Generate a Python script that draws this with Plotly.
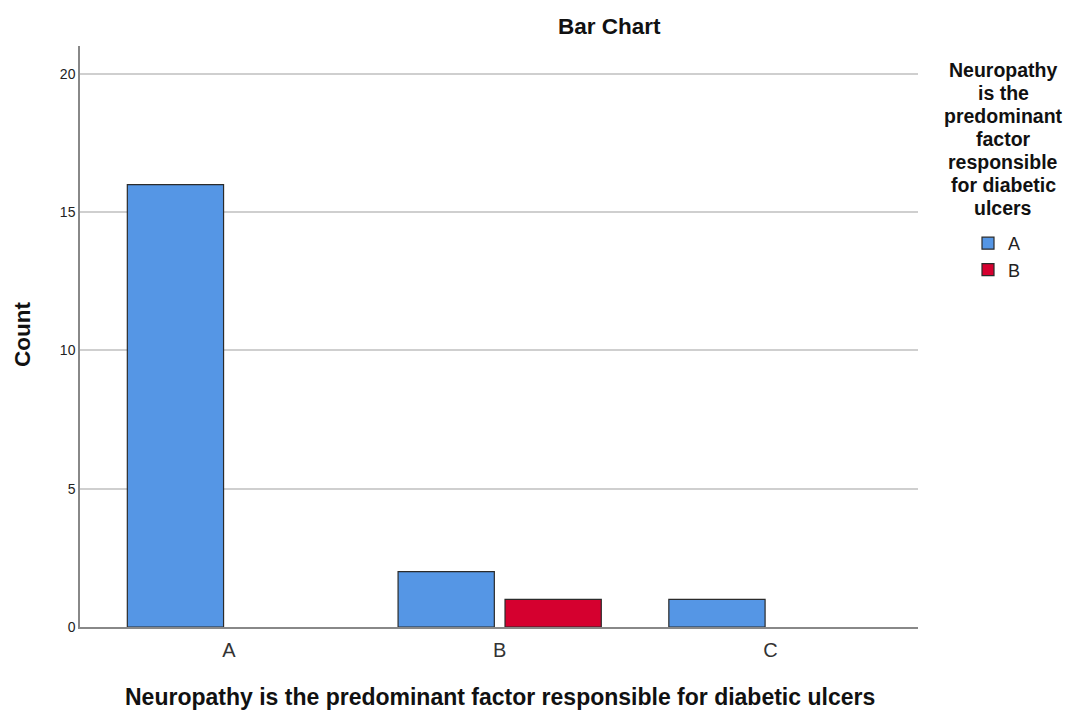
import plotly.graph_objects as go

categories = ["A", "B", "C"]
series_names = ["A", "B"]
counts_A = [16, 2, 1]
counts_B = [None, 1, None]
colors = ["#5596e5", "#d5002f"]

y_ticks = [0, 5, 10, 15, 20]
title_text = "Bar Chart"
x_title = "Neuropathy is the predominant factor responsible for diabetic ulcers"
y_title = "Count"
legend_title_lines = ["Neuropathy", "is the", "predominant", "factor",
                      "responsible", "for diabetic", "ulcers"]

FONT = "Liberation Sans, Arial, sans-serif"

# The page body has an 8px margin, so the figure is drawn 8px in from the window edge.
PL, PR, PT, PB = 80, 918, 46, 627  # plot area in window pixels
def px(xs):
    return (xs - PL) / (PR - PL)
def py(ys):
    return (PB - ys) / (PB - PT)

fig = go.Figure()
for name, vals, col in zip(series_names, [counts_A, counts_B], colors):
    fig.add_trace(go.Bar(
        x=categories, y=vals, name=name,
        marker=dict(color=col, line=dict(color="#2b2b2b", width=1.2)),
    ))

fig.update_layout(
    width=1070, height=704,
    margin=dict(l=PL - 8, r=1078 - PR, t=PT - 8, b=712 - PB, autoexpand=False),
    paper_bgcolor="white", plot_bgcolor="white",
    barmode="group", bargap=0.21, bargroupgap=0.1,
    font=dict(family=FONT, color="#222"),
    showlegend=True,
    legend=dict(
        x=px(968), xanchor="left", y=py(225), yanchor="top",
        font=dict(size=18, family=FONT, color="#222"),
        itemwidth=30,
        bgcolor="rgba(0,0,0,0)",
    ),
    xaxis=dict(
        range=[-0.55, 2.545],
        showline=True, linecolor="#888", linewidth=1.5,
        ticks="", tickfont=dict(size=20, color="#333"),
        ticklabelstandoff=4,
        showgrid=False, zeroline=False,
    ),
    yaxis=dict(
        range=[0, 21.01],
        tickvals=y_ticks,
        showline=True, linecolor="#888", linewidth=1.5,
        ticks="", tickfont=dict(size=14, color="#222"),
        showgrid=True, gridcolor="#cfcfcf", gridwidth=1.5,
        zeroline=False,
    ),
)

fig.add_annotation(
    text="<b>" + title_text + "</b>", xref="paper", yref="paper",
    x=px(609), y=py(27), xanchor="center", yanchor="middle",
    showarrow=False, font=dict(size=22.5, color="#111", family=FONT),
)
fig.add_annotation(
    text="<b>" + x_title + "</b>", xref="paper", yref="paper",
    x=px(499.5), y=py(697), xanchor="center", yanchor="middle",
    showarrow=False, font=dict(size=23, color="#111", family=FONT),
)
fig.add_annotation(
    text="<b>" + y_title + "</b>", xref="paper", yref="paper",
    x=px(22), y=py(335), xanchor="center", yanchor="middle", textangle=-90,
    showarrow=False, font=dict(size=22.5, color="#111", family=FONT),
)
line_y = [70, 93, 116, 139, 162, 185, 208]
for txt, yy in zip(legend_title_lines, line_y):
    fig.add_annotation(
        text="<b>" + txt + "</b>", xref="paper", yref="paper",
        x=px(1003), y=py(yy), xanchor="center", yanchor="middle",
        showarrow=False, borderpad=0,
        font=dict(size=19.5, color="#111", family=FONT),
    )

fig.write_html("out.html")
